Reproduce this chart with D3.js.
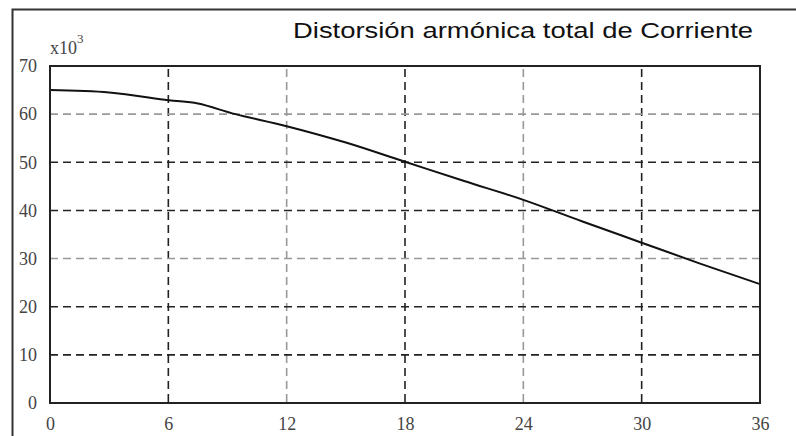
<!DOCTYPE html>
<html>
<head>
<meta charset="utf-8">
<script src="https://cdn.jsdelivr.net/npm/d3@7"></script>
<style>
  html, body { margin: 0; padding: 0; background: #fff; }
  svg { display: block; }
  .serif { font-family: "Liberation Serif", "Times New Roman", serif; }
  .sans { font-family: "Liberation Sans", Arial, sans-serif; }
</style>
</head>
<body>
<svg id="chart" width="796" height="436"></svg>
<script>
// Current THD curve (values in thousands)
const xValues = [0, 3, 6, 7.5, 9.4, 12, 15, 18, 21, 24, 27, 30, 33, 36];
const yValues = [65.0, 64.5, 62.9, 62.2, 60.0, 57.5, 54.1, 50.1, 46.1, 42.2, 37.7, 33.3, 28.9, 24.7];

const xTicks = [0, 6, 12, 18, 24, 30, 36];
const yTicks = [0, 10, 20, 30, 40, 50, 60, 70];
// grid lines drawn in light grey; the rest are dark
const xGreyTicks = [12, 24];
const yGreyTicks = [30, 60];

const titleText = "Distorsión armónica total de Corriente";
const exponentBase = "x10";
const exponentPower = "3";

const svg = d3.select("#chart");
const m = { left: 50, top: 66, right: 760, bottom: 403 };

const x = d3.scaleLinear().domain([0, 36]).range([m.left, m.right]);
const y = d3.scaleLinear().domain([0, 70]).range([m.bottom, m.top]);

// outer frame (only its left and top edges fall inside the view)
svg.append("path")
  .attr("d", `M12.5,436 L12.5,9.5 L796,9.5`)
  .attr("fill", "none").attr("stroke", "#333").attr("stroke-width", 2);

// title
svg.append("text")
  .attr("class", "sans")
  .attr("x", 293).attr("y", 38)
  .attr("textLength", 460).attr("lengthAdjust", "spacingAndGlyphs")
  .attr("font-size", 22).attr("fill", "#111")
  .text(titleText);

// grid
const grid = svg.append("g").attr("fill", "none").attr("stroke-width", 1.6)
  .attr("stroke-dasharray", "8,5");
grid.selectAll("line.v").data(xTicks.filter(d => d > 0 && d < 36)).join("line")
  .attr("class", "v")
  .attr("x1", d => x(d)).attr("x2", d => x(d))
  .attr("y1", m.top + 3).attr("y2", m.bottom)
  .attr("stroke", d => xGreyTicks.includes(d) ? "#999" : "#222");
grid.selectAll("line.h").data(yTicks.filter(d => d > 0 && d < 70)).join("line")
  .attr("class", "h")
  .attr("x1", m.left).attr("x2", m.right)
  .attr("y1", d => y(d)).attr("y2", d => y(d))
  .attr("stroke", d => yGreyTicks.includes(d) ? "#999" : "#222");

// curve
const line = d3.line()
  .x((d, i) => x(xValues[i]))
  .y(d => y(d))
  .curve(d3.curveCatmullRom.alpha(0.5));
svg.append("path")
  .datum(yValues)
  .attr("d", line)
  .attr("fill", "none").attr("stroke", "#111").attr("stroke-width", 2);

// plot border
svg.append("rect")
  .attr("x", m.left).attr("y", m.top)
  .attr("width", m.right - m.left).attr("height", m.bottom - m.top)
  .attr("fill", "none").attr("stroke", "#222").attr("stroke-width", 2);

// axis labels
const xAxis = d3.axisBottom(x).tickValues(xTicks).tickSize(0).tickPadding(14);
const gx = svg.append("g").attr("transform", `translate(0,${m.bottom})`).call(xAxis);
const yAxis = d3.axisLeft(y).tickValues(yTicks).tickSize(0).tickPadding(13);
const gy = svg.append("g").attr("transform", `translate(${m.left},0)`).call(yAxis);
[gx, gy].forEach(g => {
  g.attr("font-family", null).attr("font-size", null).attr("class", "serif");
  g.select(".domain").remove();
  g.selectAll("text")
    .attr("font-size", 18).attr("fill", "#444");
});

// exponent label
const ex = svg.append("text")
  .attr("class", "serif")
  .attr("x", 50).attr("y", 54)
  .attr("font-size", 18).attr("fill", "#444");
ex.append("tspan").text(exponentBase);
ex.append("tspan").attr("dy", -11).attr("font-size", 13).text(exponentPower);
</script>
</body>
</html>
